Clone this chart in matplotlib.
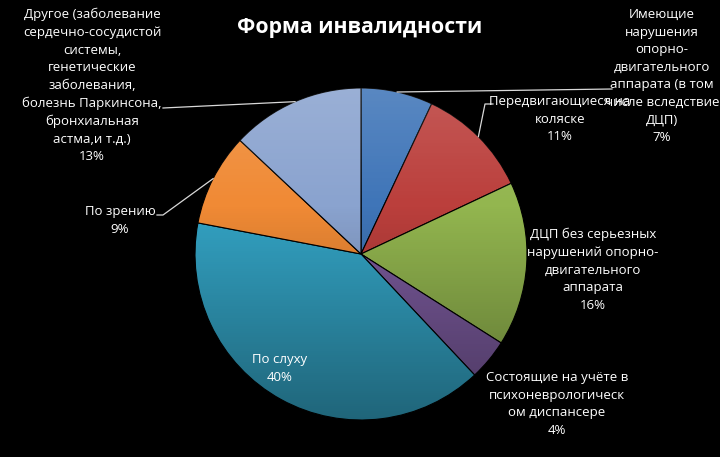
import numpy as np
import matplotlib
matplotlib.use("Agg")
import matplotlib.pyplot as plt
from matplotlib.patches import Circle

# data
categories = [
    "Имеющие\nнарушения\nопорно-\nдвигательного\nаппарата (в том\nчисле вследствие\nДЦП)",
    "Передвигающиеся на\nколяске",
    "ДЦП без серьезных\nнарушений опорно-\nдвигательного\nаппарата",
    "Состоящие на учёте в\nпсихоневрологическ\nом диспансере",
    "По слуху",
    "По зрению",
    "Другое (заболевание\nсердечно-сосудистой\nсистемы,\nгенетические\nзаболевания,\nболезнь Паркинсона,\nбронхиальная\nастма,и т.д.)",
]
values = [7, 11, 16, 4, 40, 9, 13]
colors = ["#3f75b8", "#bb3f3c", "#93b64f", "#7a5a9c", "#33a3c4", "#f08a35", "#8aa3cf"]
title = "Форма инвалидности"

W, H = 720, 457
CX, CY, R = 361, 254, 166

plt.rcParams['font.family'] = ['Open Sans', 'DejaVu Sans']

fig = plt.figure(figsize=(W / 100, H / 100), dpi=100, facecolor="black")
ax = fig.add_axes([0, 0, 1, 1])
ax.set_facecolor("black")

wedges, _ = ax.pie(values, colors=colors, startangle=90, counterclock=False,
                   radius=R, center=(CX, H - CY),
                   wedgeprops=dict(edgecolor="black", linewidth=0.8))
ax.set_xlim(0, W)
ax.set_ylim(0, H)
ax.set_aspect("equal")
ax.axis("off")

# shading over the pie: lighter top, darker bottom
t = np.linspace(0, 1, 256)[:, None]
img = np.zeros((256, 1, 4))
top = t < 0.35
img[..., :3] = np.where(top[..., None], 1.0, 0.0)
img[..., 3] = np.where(top, 0.14 * (0.35 - t) / 0.35, 0.38 * (t - 0.35) / 0.65)
clip = Circle((CX, H - CY), R, transform=ax.transData)
im = ax.imshow(img, extent=(CX - R, CX + R, H - CY - R, H - CY + R),
               aspect="auto", zorder=3, interpolation="bilinear")
im.set_clip_path(clip)

# labels: (x, y of top of first line) in pixels
label_pos = [(662, 8), (560, 95), (593, 228), (557, 371), (280, 353), (120, 205), (92, 8)]
# leader line elbow points (pixels), None = no leader
leaders = [
    [(612, 89)],
    [(485, 104), (493, 104)],
    None,
    None,
    None,
    [(163, 215), (157, 215)],
    [(163, 108)],
]

for w, cat, v, (lx, ly), ld in zip(wedges, categories, values, label_pos, leaders):
    txt = f"{cat}\n{v}%"
    ax.text(lx, H - ly, txt, color="white", fontsize=9.5, ha="center", va="top",
            linespacing=1.46, zorder=5)
    if ld:
        mid = np.deg2rad((w.theta1 + w.theta2) / 2)
        sx = w.center[0] + w.r * np.cos(mid)
        sy = w.center[1] + w.r * np.sin(mid)
        xs = [sx] + [p[0] for p in ld]
        ys = [sy] + [H - p[1] for p in ld]
        ax.plot(xs, ys, color="#d9d9d9", lw=0.9, zorder=4)

ax.text(360, H - 27, title, color="white", fontsize=15.3, fontweight="bold",
        ha="center", va="center", zorder=5)

fig.savefig("out.png", dpi=100, facecolor="black")
